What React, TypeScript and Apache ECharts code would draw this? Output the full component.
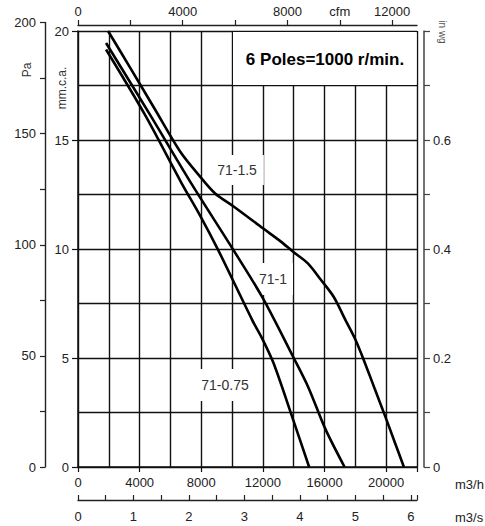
import React, { useEffect, useRef } from "react";
import * as echarts from "echarts";

// ---- data (flow in m3/h, pressure in mm c.a.) ----
const flow_71_150 = [1950, 3400, 5000, 6650, 7950, 8900, 10100, 12000, 13150, 14000, 14900, 15750, 16600, 17350, 18000, 18550, 19250, 19950, 20550, 21150];
const press_71_150 = [20, 18.3, 16.4, 14.45, 13.3, 12.55, 11.95, 10.95, 10.35, 9.85, 9.35, 8.6, 7.8, 6.75, 5.85, 4.9, 3.6, 2.3, 1.15, 0];

const flow_71_100 = [1820, 4680, 7400, 10000, 11950, 14000, 14950, 16050, 17300];
const press_71_100 = [19.45, 16.15, 12.95, 10.05, 7.8, 5.0, 3.65, 1.75, 0];

const flow_71_075 = [1820, 4350, 6700, 7950, 9100, 11300, 11950, 12700, 13900, 15000];
const press_71_075 = [19.15, 16.15, 13.05, 11.5, 9.95, 6.75, 5.9, 4.75, 2.3, 0];

const curveNames = ["71-1.5", "71-1", "71-0.75"];

const m3hTickLabels = [0, 4000, 8000, 12000, 16000, 20000];
const cfmTickLabels = [0, 4000, 8000, 12000];
const cfmUnitAt = 10000;
const m3sTickLabels = [0, 1, 2, 3, 4, 5, 6];
const mmTickLabels = [0, 5, 10, 15, 20];
const paTickLabels = [0, 50, 100, 150, 200];
const inwgTickLabels = [0, 0.2, 0.4, 0.6];

const FLOW_MAX = 22000;
const MM_MAX = 20;
const M3H_PER_CFM = 1.699;
const M3H_PER_M3S = 3600;
const PA_PER_MM = 9.81;

const FONT = "Liberation Sans, Arial, Helvetica, sans-serif";
const LBL = { fontFamily: FONT, fontSize: 13, color: "#222" };

const pairs = (xs: number[], ys: number[]) => xs.map((x, i) => [x, ys[i]]);

export default function App() {
  const ref = useRef<HTMLDivElement>(null);
  useEffect(() => {
    if (!ref.current) return;
    const chart = echarts.init(ref.current, null, { renderer: "svg" });

    const gridLeft = 78, gridTop = 31, gridRight = 68, gridBottom = 59;
    const plotH = 526 - gridTop - gridBottom;
    const paMaxPx = (200 / PA_PER_MM / MM_MAX) * plotH;
    const paTop = 526 - gridBottom - paMaxPx;

    const near = (v: number, arr: number[], eps = 1e-6) => arr.some((a) => Math.abs(a - v) < eps);

    const lineStyle = { color: "#000", width: 2.6 };

    const option: any = {
      animation: false,
      backgroundColor: "#fff",
      grid: [
        { left: gridLeft, top: gridTop, right: gridRight, bottom: gridBottom },
        { left: 45, top: paTop, width: 1, bottom: gridBottom },
      ],
      xAxis: [
        {
          gridIndex: 0, type: "value", position: "bottom", min: 0, max: FLOW_MAX, interval: 2000,
          axisLine: { show: true, onZero: false, lineStyle: { color: "#111", width: 1.5 } },
          axisTick: { show: false }, axisLabel: { show: false },
          splitLine: { show: true, lineStyle: { color: "#111", width: 1.4 } },
        },
        {
          gridIndex: 0, type: "value", position: "bottom", min: 0, max: FLOW_MAX, interval: 4000,
          axisLine: { show: false, onZero: false },
          axisTick: { show: true, length: 5, lineStyle: { color: "#111", width: 1.2 } },
          axisLabel: { ...LBL, margin: 9, formatter: (v: number) => (near(v, m3hTickLabels) ? String(v) : "") },
          splitLine: { show: false },
        },
        {
          gridIndex: 0, type: "value", position: "top", offset: 6, min: 0, max: FLOW_MAX / M3H_PER_CFM, interval: 2000,
          axisLine: { show: true, onZero: false, lineStyle: { color: "#222", width: 1.3 } },
          axisTick: { show: true, length: 5, lineStyle: { color: "#222", width: 1.2 }, customValues: [0, 2000, 4000, 6000, 8000, 10000, 12000] },
          axisLabel: {
            ...LBL, margin: 7,
            customValues: [...cfmTickLabels, cfmUnitAt],
            formatter: (v: number) => (Math.abs(v - cfmUnitAt) < 1e-6 ? "cfm" : near(v, cfmTickLabels) ? String(v) : ""),
          },
          splitLine: { show: false },
        },
        {
          gridIndex: 0, type: "value", position: "bottom", offset: 33, min: 0, max: FLOW_MAX / M3H_PER_M3S, interval: 0.5,
          axisLine: { show: true, onZero: false, lineStyle: { color: "#222", width: 1.3 } },
          axisTick: { show: true, inside: true, length: 5, lineStyle: { color: "#222", width: 1.2 } },
          axisLabel: { ...LBL, margin: 10, formatter: (v: number) => (near(v, m3sTickLabels) ? String(Math.round(v)) : "") },
          splitLine: { show: false },
        },
        { gridIndex: 1, type: "value", show: false, min: 0, max: 1 },
      ],
      yAxis: [
        {
          gridIndex: 0, type: "value", position: "left", min: 0, max: MM_MAX, interval: 2.5,
          axisLine: { show: true, onZero: false, lineStyle: { color: "#111", width: 1.5 } },
          axisTick: { show: false }, axisLabel: { show: false },
          splitLine: { show: true, lineStyle: { color: "#111", width: 1.4 } },
        },
        {
          gridIndex: 0, type: "value", position: "left", min: 0, max: MM_MAX, interval: 5,
          axisLine: { show: false, onZero: false },
          axisTick: { show: true, length: 6, lineStyle: { color: "#111", width: 1.2 } },
          axisLabel: { ...LBL, margin: 9, formatter: (v: number) => (near(v, mmTickLabels) ? String(v) : "") },
          splitLine: { show: false },
        },
        {
          gridIndex: 0, type: "value", position: "right", offset: 7, min: 0, max: 0.8, interval: 0.1,
          axisLine: { show: true, onZero: false, lineStyle: { color: "#444", width: 1.5 } },
          axisTick: { show: true, length: 6, lineStyle: { color: "#444", width: 1.2 } },
          axisLabel: { ...LBL, margin: 9, formatter: (v: number) => (near(v, inwgTickLabels) ? String(Math.round(v * 10) / 10) : "") },
          splitLine: { show: false },
        },
        {
          gridIndex: 1, type: "value", position: "left", min: 0, max: 200, interval: 25,
          axisLine: { show: true, onZero: false, lineStyle: { color: "#222", width: 1.4 } },
          axisTick: { show: true, length: 5, lineStyle: { color: "#222", width: 1.2 } },
          axisLabel: { ...LBL, margin: 9, formatter: (v: number) => (near(v, paTickLabels) ? String(v) : "") },
          splitLine: { show: false },
        },
      ],
      series: [
        { name: curveNames[0], type: "line", xAxisIndex: 0, yAxisIndex: 0, data: pairs(flow_71_150, press_71_150), smooth: 0.3, symbol: "none", lineStyle, z: 3 },
        { name: curveNames[1], type: "line", xAxisIndex: 0, yAxisIndex: 0, data: pairs(flow_71_100, press_71_100), smooth: 0.3, symbol: "none", lineStyle, z: 3 },
        { name: curveNames[2], type: "line", xAxisIndex: 0, yAxisIndex: 0, data: pairs(flow_71_075, press_71_075), smooth: 0.3, symbol: "none", lineStyle, z: 3 },
      ],
      graphic: [
        { type: "rect", z: 1, shape: { x: 233, y: 32, width: 183.5, height: 53 }, style: { fill: "#fff" } },
        {
          type: "text", z: 1, x: 325, y: 59,
          style: { text: "6 Poles=1000 r/min.", font: `bold 17px ${FONT}`, fill: "#000", align: "center", verticalAlign: "middle" },
        },
        {
          type: "text", z: 1, x: 237, y: 170,
          style: { text: curveNames[0], font: `14px ${FONT}`, fill: "#333", align: "center", verticalAlign: "middle", backgroundColor: "#fff", padding: [8, 7] },
        },
        {
          type: "text", z: 1, x: 273, y: 279,
          style: { text: curveNames[1], font: `14px ${FONT}`, fill: "#333", align: "center", verticalAlign: "middle", backgroundColor: "#fff", padding: [9, 6] },
        },
        {
          type: "text", z: 1, x: 225, y: 385,
          style: { text: curveNames[2], font: `14px ${FONT}`, fill: "#333", align: "center", verticalAlign: "middle", backgroundColor: "#fff", padding: [9, 4] },
        },
        { type: "text", z: 1, x: 455, y: 484, style: { text: "m3/h", font: `13px ${FONT}`, fill: "#222", align: "left", verticalAlign: "middle" } },
        { type: "text", z: 1, x: 455, y: 517, style: { text: "m3/s", font: `13px ${FONT}`, fill: "#222", align: "left", verticalAlign: "middle" } },
        { type: "text", z: 1, x: 27, y: 70, rotation: Math.PI / 2, style: { text: "Pa", font: `12px ${FONT}`, fill: "#333", align: "center", verticalAlign: "middle" } },
        { type: "text", z: 1, x: 62, y: 88, rotation: Math.PI / 2, style: { text: "mm.c.a.", font: `12px ${FONT}`, fill: "#333", align: "center", verticalAlign: "middle" } },
        { type: "text", z: 1, x: 442, y: 32, rotation: -Math.PI / 2, style: { text: "in wg", font: `10px ${FONT}`, fill: "#555", align: "center", verticalAlign: "middle" } },
      ],
    };
    chart.setOption(option);
    return () => chart.dispose();
  }, []);
  return <div ref={ref} style={{ position: "absolute", left: 0, top: 0, width: 485, height: 526 }} />;
}
